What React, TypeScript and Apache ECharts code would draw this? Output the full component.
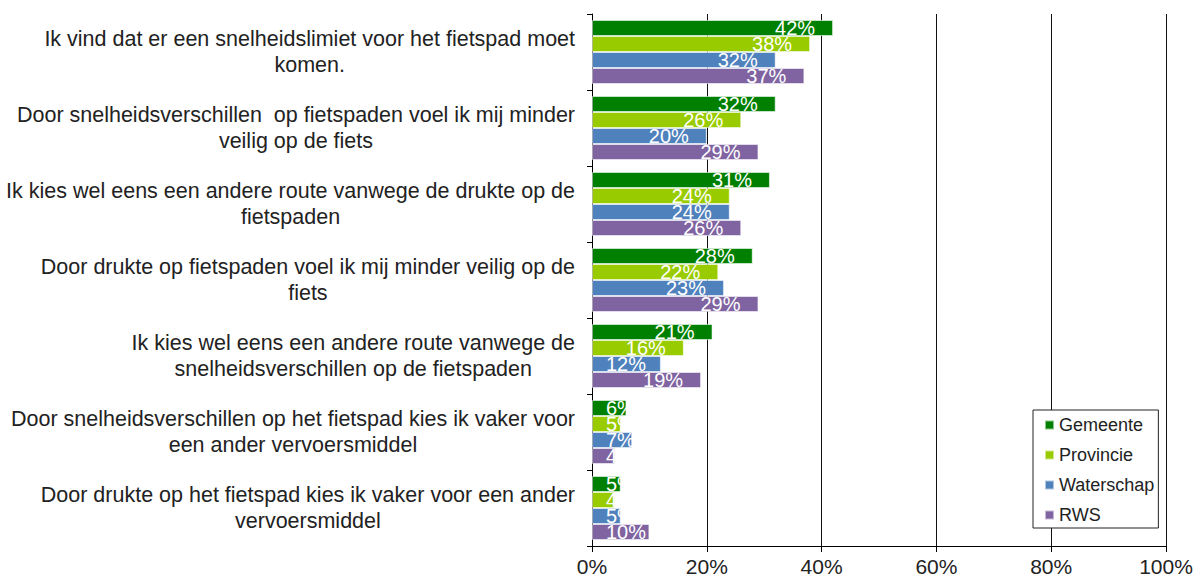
import React, { useEffect, useRef } from "react";
import * as echarts from "echarts";

const categories: string[] = [
  "Ik vind dat er een snelheidslimiet voor het fietspad moet\nkomen.",
  "Door snelheidsverschillen  op fietspaden voel ik mij minder\nveilig op de fiets",
  "Ik kies wel eens een andere route vanwege de drukte op de\nfietspaden",
  "Door drukte op fietspaden voel ik mij minder veilig op de\nfiets",
  "Ik kies wel eens een andere route vanwege de\nsnelheidsverschillen op de fietspaden",
  "Door snelheidsverschillen op het fietspad kies ik vaker voor\neen ander vervoersmiddel",
  "Door drukte op het fietspad kies ik vaker voor een ander\nvervoersmiddel",
];

const gemeente: number[] = [42, 32, 31, 28, 21, 6, 5];
const provincie: number[] = [38, 26, 24, 22, 16, 5, 4];
const waterschap: number[] = [32, 20, 24, 23, 12, 7, 5];
const rws: number[] = [37, 29, 26, 29, 19, 4, 10];

const xTicks: number[] = [0, 20, 40, 60, 80, 100];

const seriesDefs = [
  { name: "Gemeente", values: gemeente, color: "#008000" },
  { name: "Provincie", values: provincie, color: "#99CC00" },
  { name: "Waterschap", values: waterschap, color: "#4F81BD" },
  { name: "RWS", values: rws, color: "#8064A2" },
];

const FONT = "'Liberation Sans', Arial, sans-serif";
const SMALL_LABEL_MAX = 12;

export default function App() {
  const ref = useRef<HTMLDivElement>(null);

  useEffect(() => {
    document.body.style.margin = "0";
    const chart = echarts.init(ref.current!, undefined, { renderer: "svg" });
    chart.setOption({
      animation: false,
      backgroundColor: "#ffffff",
      textStyle: { fontFamily: FONT },
      grid: { left: 592, right: 38, top: 14, bottom: 33, containLabel: false },
      legend: {
        orient: "vertical",
        left: 1033,
        top: 410,
        data: seriesDefs.map((s) => s.name),
        icon: "rect",
        itemWidth: 9,
        itemHeight: 9,
        itemGap: 12,
        padding: [6, 4, 4, 11],
        borderColor: "#222",
        borderWidth: 1,
        backgroundColor: "#fff",
        textStyle: { fontSize: 18, color: "#222", fontFamily: FONT },
        selectedMode: false,
      },
      xAxis: {
        type: "value",
        min: xTicks[0],
        max: xTicks[xTicks.length - 1],
        interval: xTicks[1] - xTicks[0],
        axisLine: { show: true, lineStyle: { color: "#000", width: 1 } },
        axisTick: { show: true, length: 6, lineStyle: { color: "#000" } },
        axisLabel: {
          formatter: "{value}%",
          fontSize: 21,
          color: "#222",
          margin: 10,
          fontFamily: FONT,
        },
        splitLine: { show: true, lineStyle: { color: "#111", width: 1 } },
      },
      yAxis: {
        type: "category",
        inverse: true,
        data: categories,
        axisLine: { show: true, lineStyle: { color: "#000", width: 1 } },
        axisTick: { show: true, length: 5, inside: false, lineStyle: { color: "#000" } },
        axisLabel: {
          margin: 17,
          fontSize: 21.5,
          color: "#222",
          fontFamily: FONT,
          formatter: (v: string) =>
            v
              .split("\n")
              .map((l) => `{c|${l}}`)
              .join("\n"),
          rich: {
            c: {
              align: "center",
              fontSize: 21.5,
              lineHeight: 26,
              color: "#222",
              fontFamily: FONT,
            },
          },
        },
        splitLine: { show: false },
      },
      series: seriesDefs.map((s) => ({
        name: s.name,
        type: "bar",
        barWidth: 16,
        barGap: "0%",
        itemStyle: {
          color: s.color,
          borderColor: "rgba(255,255,255,0.55)",
          borderWidth: 1,
        },
        label: {
          show: true,
          position: "insideRight",
          distance: 18,
          color: "#ffffff",
          fontSize: 20,
          lineHeight: 16,
          fontFamily: FONT,
          formatter: "{c}%",
        },
        data: s.values.map((v) =>
          v <= SMALL_LABEL_MAX
            ? { value: v, label: { position: "insideLeft", distance: 14 } }
            : { value: v }
        ),
      })),
    });
    return () => chart.dispose();
  }, []);

  return <div ref={ref} style={{ width: 1204, height: 579 }} />;
}
